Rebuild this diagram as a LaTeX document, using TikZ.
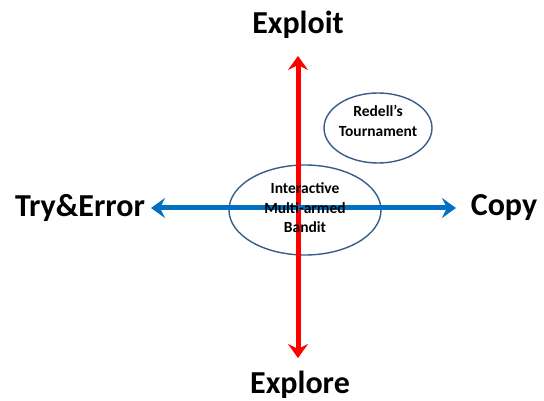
\documentclass[tikz,border=0pt]{standalone}
\usepackage{fontspec}
\setmainfont{Carlito}
\usetikzlibrary{arrows.meta}
\definecolor{axred}{HTML}{FF0000}
\definecolor{axblue}{HTML}{0070C0}
\definecolor{ellline}{HTML}{385D8A}
\begin{document}
\begin{tikzpicture}[x=1pt,y=-1pt,
  axis/.style={line width=5pt,{Stealth[length=14pt,width=20pt,inset=5pt]}-{Stealth[length=14pt,width=20pt,inset=5pt]}},
  bubble/.style={draw=ellline,line width=1.4pt},
  bigtxt/.style={font=\bfseries\fontsize{32}{36}\selectfont,inner sep=0pt},
  smalltxt/.style={font=\bfseries\fontsize{15.5}{19.5}\selectfont,align=center,inner sep=0pt}]
\useasboundingbox (0,0) rectangle (544,401);
\draw[bubble] (305,210) ellipse [x radius=76, y radius=45];
\draw[bubble] (378,128) ellipse [x radius=54, y radius=35];
\coordinate (top) at (298,56);
\coordinate (bot) at (298,358);
\coordinate (lft) at (151,208);
\coordinate (rgt) at (456,208);
\draw[axis,axred] (top) -- (bot);
\draw[axis,axblue] (lft) -- (rgt);
\node[bigtxt] (exploit) at (298,25) {Exploit};
\node[bigtxt] (explore) at (300,385) {Explore};
\node[bigtxt] (try) at (80,208) {Try\&Error};
\node[bigtxt] (copy) at (504,208) {Copy};
\node[smalltxt] (imb) at (305,208) {Interactive\\Multi-armed\\Bandit};
\node[smalltxt] (rt) at (378,121) {Redell’s\\Tournament};
\end{tikzpicture}
\end{document}
